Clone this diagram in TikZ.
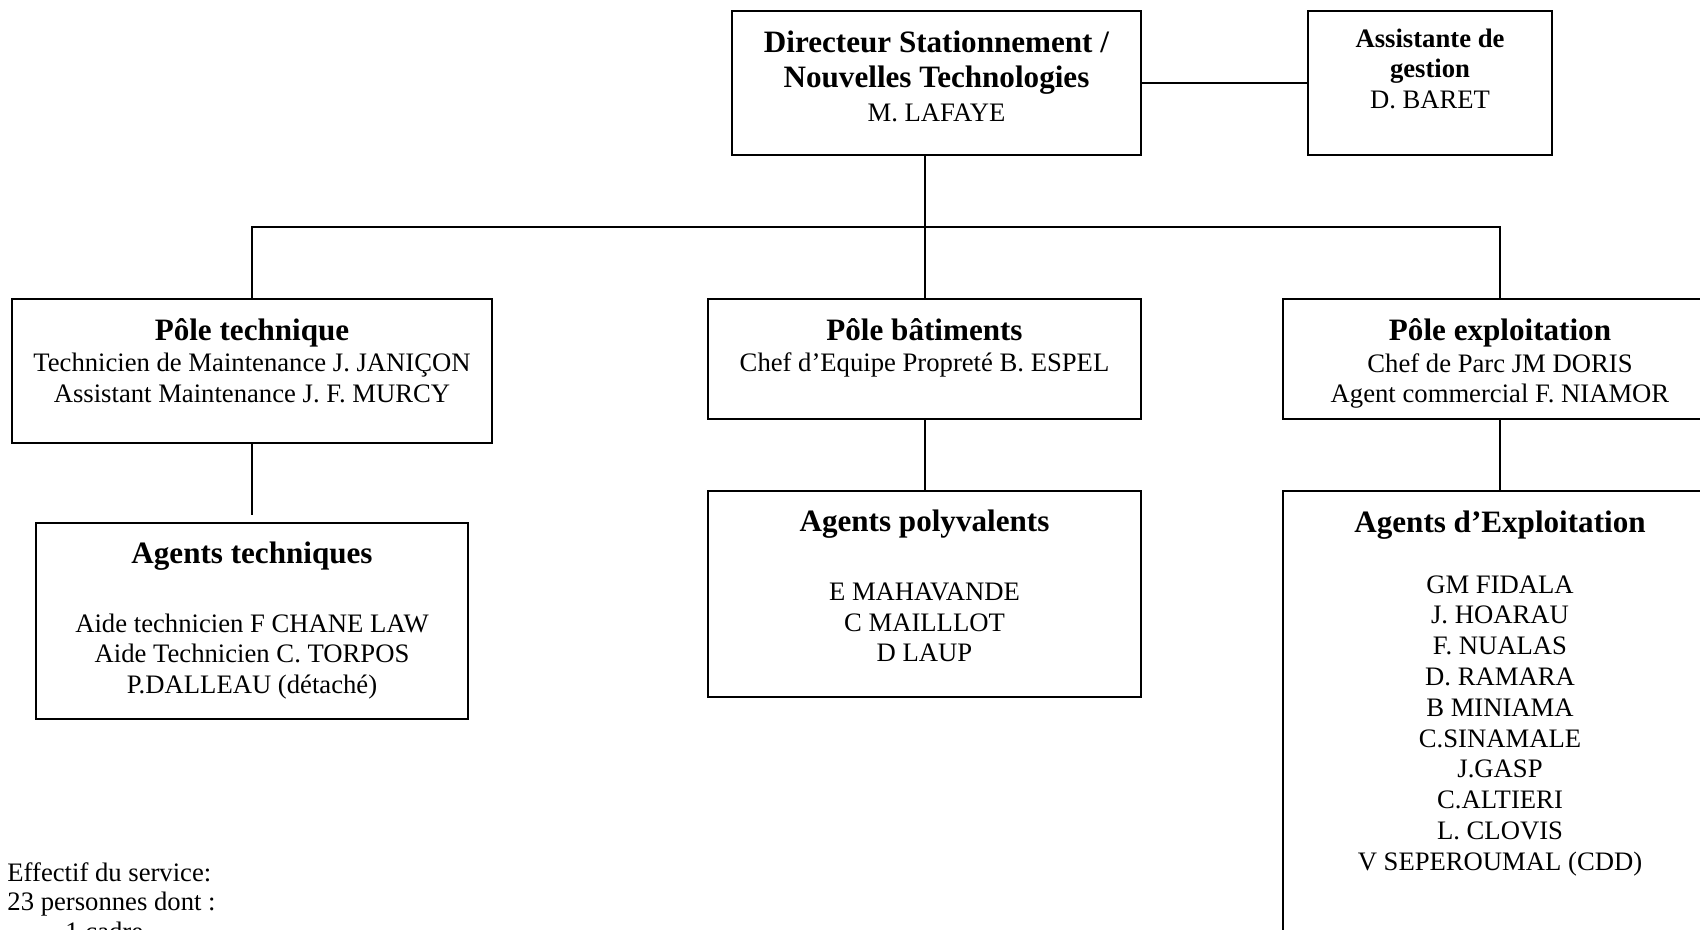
\documentclass[tikz,border=0pt]{standalone}
\usepackage{fontspec}
\setmainfont{Liberation Serif}
\begin{document}
\begin{tikzpicture}[x=0.45pt,y=-0.45pt,
  box/.style={draw, line width=0.9pt, rectangle, inner sep=0pt},
  conn/.style={line width=0.9pt},
  ttl/.style={anchor=base, inner sep=0pt, font=\fontsize{14}{16}\bfseries\selectfont},
  ttls/.style={anchor=base, inner sep=0pt, font=\fontsize{12}{13.8}\bfseries\selectfont},
  txt/.style={anchor=base, inner sep=0pt, font=\fontsize{12}{13.8}\selectfont},
  note/.style={anchor=base west, inner sep=0pt, font=\fontsize{12}{13.8}\selectfont}]
\useasboundingbox (0,0) rectangle (1700,929);
\clip (0,0) rectangle (1700,929);

% boxes
\node[box, minimum width=409*0.45pt, minimum height=144*0.45pt] (dir) at (936.5,83) {};
\node[box, minimum width=244*0.45pt, minimum height=144*0.45pt] (asst) at (1430,83) {};
\node[box, minimum width=480*0.45pt, minimum height=144*0.45pt] (ptech) at (252,371) {};
\node[box, minimum width=433*0.45pt, minimum height=120*0.45pt] (pbat) at (924.5,359) {};
\node[box, minimum width=434*0.45pt, minimum height=120*0.45pt] (pexp) at (1500,359) {};
\node[box, minimum width=432*0.45pt, minimum height=196*0.45pt] (atech) at (252,621) {};
\node[box, minimum width=433*0.45pt, minimum height=206*0.45pt] (apoly) at (924.5,594) {};
\node[box, minimum width=434*0.45pt, minimum height=470*0.45pt] (aexp) at (1500,726) {};

% connectors
\coordinate (busy) at (0,227);
\coordinate (tgap) at (252,515);
\draw[conn] (dir.east) -- (asst.west);
\draw[conn] (dir.south -| pbat.north) -- (pbat.north);
\draw[conn] (ptech.north) -- (ptech.north |- busy) -- (pexp.north |- busy) -- (pexp.north);
\draw[conn] (ptech.south) -- (tgap);
\draw[conn] (pbat.south) -- (apoly.north);
\draw[conn] (pexp.south) -- (aexp.north);

% director
\node[ttl] (dir1) at (936.5,52) {Directeur Stationnement /};
\node[ttl] (dir2) at (936.5,87) {Nouvelles Technologies};
\node[txt] (dir3) at (936.5,121) {M. LAFAYE};
% assistant
\node[ttls] (as1) at (1430,47) {Assistante de};
\node[ttls] (as2) at (1430,77) {gestion};
\node[txt] (as3) at (1430,108) {D. BARET};
% pole technique
\node[ttl] (pt1) at (252,340) {Pôle technique};
\node[txt] (pt2) at (252,371) {Technicien de Maintenance J. JANIÇON};
\node[txt] (pt3) at (252,402) {Assistant Maintenance J. F. MURCY};
% pole batiments
\node[ttl] (pb1) at (924.5,340) {Pôle bâtiments};
\node[txt] (pb2) at (924.5,371) {Chef d’Equipe Propreté B. ESPEL};
% pole exploitation
\node[ttl] (pe1) at (1500,340) {Pôle exploitation};
\node[txt] (pe2) at (1500,372) {Chef de Parc JM DORIS};
\node[txt] (pe3) at (1500,402) {Agent commercial F. NIAMOR};
% agents techniques
\node[ttl] (at1) at (252,563) {Agents techniques};
\node[txt] (at2) at (252,632) {Aide technicien F CHANE LAW};
\node[txt] (at3) at (252,662) {Aide Technicien C. TORPOS};
\node[txt] (at4) at (252,693) {P.DALLEAU (détaché)};
% agents polyvalents
\node[ttl] (ap1) at (924.5,531) {Agents polyvalents};
\node[txt] (ap2) at (924.5,600) {E MAHAVANDE};
\node[txt] (ap3) at (924.5,631) {C MAILLLOT};
\node[txt] (ap4) at (924.5,661) {D LAUP};
% agents exploitation
\node[ttl] (ae0) at (1500,532) {Agents d’Exploitation};
\node[txt] (ae1) at (1500,593) {GM FIDALA};
\node[txt] (ae2) at (1500,623.8) {J. HOARAU};
\node[txt] (ae3) at (1500,654.6) {F. NUALAS};
\node[txt] (ae4) at (1500,685.4) {D. RAMARA};
\node[txt] (ae5) at (1500,716.2) {B MINIAMA};
\node[txt] (ae6) at (1500,747) {C.SINAMALE};
\node[txt] (ae7) at (1500,777.8) {J.GASP};
\node[txt] (ae8) at (1500,808.6) {C.ALTIERI};
\node[txt] (ae9) at (1500,839.4) {L. CLOVIS};
\node[txt] (ae10) at (1500,870.2) {V SEPEROUMAL (CDD)};
% effectif
\node[note] (ef1) at (7,881) {Effectif du service:};
\node[note] (ef2) at (7,910) {23 personnes dont :};
\node[note] (ef3) at (10,940) {-};
\node[note] (ef4) at (65,940) {1 cadre};
\end{tikzpicture}
\end{document}
